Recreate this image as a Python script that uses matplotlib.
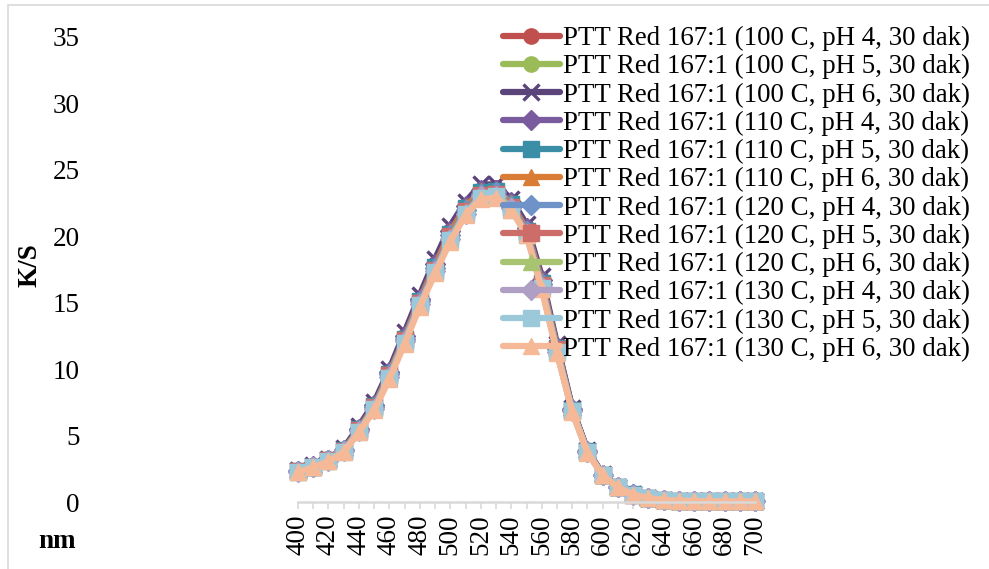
import matplotlib
matplotlib.use("Agg")
import matplotlib.pyplot as plt
from matplotlib.patches import Rectangle
import numpy as np

plt.rcParams['font.family'] = ['Liberation Serif', 'DejaVu Serif']

wavelengths = list(range(400, 701, 10))
tick_labels = [str(w) if (w - 400) % 20 == 0 else '' for w in wavelengths]

labels = [
    "PTT Red 167:1 (100 C, pH 4, 30 dak)",
    "PTT Red 167:1 (100 C, pH 5, 30 dak)",
    "PTT Red 167:1 (100 C, pH 6, 30 dak)",
    "PTT Red 167:1 (110 C, pH 4, 30 dak)",
    "PTT Red 167:1 (110 C, pH 5, 30 dak)",
    "PTT Red 167:1 (110 C, pH 6, 30 dak)",
    "PTT Red 167:1 (120 C, pH 4, 30 dak)",
    "PTT Red 167:1 (120 C, pH 5, 30 dak)",
    "PTT Red 167:1 (120 C, pH 6, 30 dak)",
    "PTT Red 167:1 (130 C, pH 4, 30 dak)",
    "PTT Red 167:1 (130 C, pH 5, 30 dak)",
    "PTT Red 167:1 (130 C, pH 6, 30 dak)",
]

ks_100_ph4 = [2.35, 2.70, 3.20, 3.95, 5.55, 7.30, 9.80, 12.5, 15.3, 17.9, 20.4, 22.3, 23.5, 23.6, 22.6, 20.6, 16.7, 11.7, 7.00, 3.85, 2.05, 1.12, 0.58, 0.31, 0.16, 0.10, 0.07, 0.06, 0.05, 0.05, 0.05]
ks_100_ph5 = [2.33, 2.68, 3.18, 3.92, 5.50, 7.25, 9.72, 12.4, 15.2, 17.8, 20.3, 22.2, 23.4, 23.5, 22.5, 20.5, 16.6, 11.6, 6.95, 3.82, 2.04, 1.11, 0.57, 0.30, 0.16, 0.10, 0.07, 0.06, 0.05, 0.05, 0.05]
ks_100_ph6 = [2.40, 2.75, 3.25, 4.05, 5.70, 7.50, 10.0, 12.8, 15.6, 18.3, 20.8, 22.6, 23.9, 23.9, 22.8, 20.9, 17.0, 11.9, 7.10, 3.90, 2.10, 1.15, 0.60, 0.32, 0.17, 0.11, 0.08, 0.06, 0.06, 0.05, 0.05]
ks_110_ph4 = [2.34, 2.69, 3.19, 3.94, 5.52, 7.28, 9.76, 12.5, 15.3, 17.9, 20.4, 22.3, 23.5, 23.5, 22.6, 20.6, 16.7, 11.7, 6.98, 3.84, 2.05, 1.12, 0.58, 0.31, 0.16, 0.10, 0.07, 0.06, 0.05, 0.05, 0.05]
ks_110_ph5 = [2.32, 2.67, 3.16, 3.90, 5.46, 7.20, 9.66, 12.3, 15.1, 17.7, 20.2, 22.1, 23.3, 23.4, 22.4, 20.4, 16.5, 11.6, 6.93, 3.81, 2.03, 1.11, 0.57, 0.30, 0.16, 0.10, 0.07, 0.06, 0.05, 0.05, 0.05]
ks_110_ph6 = [2.33, 2.68, 3.17, 3.91, 5.48, 7.22, 9.70, 12.4, 15.2, 17.8, 20.3, 22.2, 23.4, 23.4, 22.5, 20.5, 16.6, 11.6, 6.94, 3.82, 2.04, 1.11, 0.57, 0.30, 0.16, 0.10, 0.07, 0.06, 0.05, 0.05, 0.05]
ks_120_ph4 = [2.31, 2.66, 3.15, 3.88, 5.43, 7.16, 9.60, 12.3, 15.1, 17.6, 20.1, 22.0, 23.2, 23.3, 22.3, 20.4, 16.4, 11.5, 6.90, 3.80, 2.03, 1.10, 0.57, 0.30, 0.16, 0.10, 0.07, 0.06, 0.05, 0.05, 0.05]
ks_120_ph5 = [2.30, 2.65, 3.13, 3.86, 5.40, 7.12, 9.55, 12.2, 15.0, 17.5, 20.0, 21.9, 23.1, 23.2, 22.2, 20.3, 16.3, 11.5, 6.88, 3.79, 2.02, 1.10, 0.56, 0.30, 0.15, 0.10, 0.07, 0.05, 0.05, 0.05, 0.05]
ks_120_ph6 = [2.29, 2.64, 3.12, 3.84, 5.37, 7.08, 9.50, 12.2, 14.9, 17.4, 19.9, 21.8, 23.0, 23.1, 22.2, 20.2, 16.2, 11.4, 6.86, 3.78, 2.02, 1.10, 0.56, 0.30, 0.15, 0.10, 0.07, 0.05, 0.05, 0.05, 0.05]
ks_130_ph4 = [2.28, 2.63, 3.10, 3.82, 5.34, 7.03, 9.43, 12.1, 14.9, 17.4, 19.8, 21.7, 23.0, 23.0, 22.1, 20.2, 16.2, 11.3, 6.84, 3.76, 2.01, 1.10, 0.56, 0.30, 0.15, 0.10, 0.07, 0.05, 0.05, 0.05, 0.05]
ks_130_ph5 = [2.27, 2.62, 3.08, 3.80, 5.30, 6.98, 9.36, 12.0, 14.8, 17.3, 19.7, 21.7, 22.9, 23.0, 22.0, 20.1, 16.1, 11.3, 6.82, 3.75, 2.01, 1.10, 0.56, 0.30, 0.15, 0.10, 0.07, 0.05, 0.05, 0.05, 0.05]
ks_130_ph6 = [2.25, 2.60, 3.05, 3.75, 5.25, 6.90, 9.25, 11.9, 14.7, 17.2, 19.6, 21.6, 22.8, 22.9, 22.0, 20.1, 16.0, 11.2, 6.80, 3.70, 2.00, 1.10, 0.55, 0.30, 0.15, 0.10, 0.07, 0.05, 0.05, 0.05, 0.05]

series = [ks_100_ph4, ks_100_ph5, ks_100_ph6, ks_110_ph4, ks_110_ph5, ks_110_ph6,
          ks_120_ph4, ks_120_ph5, ks_120_ph6, ks_130_ph4, ks_130_ph5, ks_130_ph6]

colors = ['#C0504D', '#9BBB59', '#5B4479', '#7A5C9E', '#3A8FA6', '#D97C36',
          '#6F92C9', '#CC6D6A', '#A8C470', '#AF9FC4', '#9CC9DA', '#F6B998']
markers = ['o', 'o', 'x', 'D', 's', '^', 'D', 's', '^', 'D', 's', '^']
msizes = [11, 11, 11, 10, 12, 12, 10, 12, 12, 10, 12, 12]

fig = plt.figure(figsize=(9.89, 5.69), dpi=100)
W, H = 989, 569

# chart border (only left/top edges fall inside the canvas)
fig.patches.append(Rectangle((8 / W, -0.05), 1.2, 1 - 5 / H + 0.05, transform=fig.transFigure,
                             fill=False, edgecolor='#d9d9d9', linewidth=1.2))

ax = fig.add_axes([298 / W, (H - 502) / H, 457 / W, 465 / H])
x = np.arange(len(wavelengths))
handles = []
for vals, c, m, ms, lab in zip(series, colors, markers, msizes, labels):
    kw = dict(markeredgewidth=2.4) if m == 'x' else dict(markeredgecolor=c)
    h, = ax.plot(x, vals, color=c, marker=m, markersize=ms, linewidth=4.5,
                 solid_capstyle='round', label=lab, clip_on=False, **kw)
    handles.append(h)

ax.set_xlim(0, len(wavelengths) - 1)
ax.set_ylim(0, 35)
ax.set_yticks(np.arange(0, 36, 5))
ax.set_xticks(x)
ax.set_xticklabels(tick_labels, rotation=90, fontsize=19.5)
for s in ['top', 'right', 'left']:
    ax.spines[s].set_visible(False)
ax.spines['bottom'].set_color('#d9d9d9')
ax.spines['bottom'].set_linewidth(1.8)
ax.tick_params(axis='x', length=5, width=1.2, color='#d9d9d9', pad=4)
ax.tick_params(axis='y', length=0, pad=157, labelsize=19.5)
for t in ax.get_yticklabels():
    t.set_horizontalalignment('right')

fig.text(30 / W, 1 - 265 / H, 'K/S', rotation=90, fontsize=19.5, fontweight='bold',
         ha='center', va='center')
fig.text(57 / W, 1 - 541 / H, 'nm', fontsize=19.5, fontweight='bold', ha='center', va='center')

leg = fig.legend(handles=handles, loc='upper left', bbox_to_anchor=(503 / W, 1 - 26 / H),
                 frameon=False, fontsize=19.4, handlelength=2.1, handletextpad=0.12,
                 labelspacing=0.115, borderpad=0, borderaxespad=0)

fig.savefig('out.png', dpi=100)
